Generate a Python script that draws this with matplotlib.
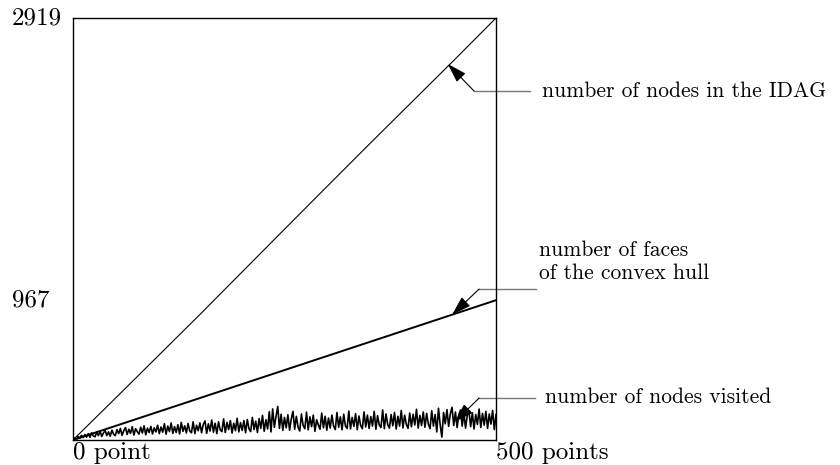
import numpy as np
import matplotlib
matplotlib.use('Agg')
import matplotlib.pyplot as plt

# points inserted so far
pts_idag = [0, 50, 100, 150, 200, 250, 300, 350, 400, 450, 500]
idag = [0, 288, 578, 868, 1163, 1458, 1752, 2045, 2335, 2625, 2919]

pts_hull = [0, 500]
hull = [0, 967]

# nodes visited during location, sampled every 2 points
visited = [
    0, 14, 6, 24, 12, 32, 16, 38, 20, 44, 18, 50, 28, 22, 54, 30, 60, 24, 48, 66, 30, 56, 26, 68, 40,
    30, 72, 44, 80, 32, 64, 86, 38, 74, 46, 92, 34, 78, 58, 40, 88, 48, 98, 36, 82, 52, 94, 42, 84, 56,
    102, 44, 90, 54, 112, 40, 96, 58, 118, 46, 92, 52, 106, 42, 122, 60, 98, 48, 114, 62, 50, 126, 44, 102, 64,
    118, 50, 108, 132, 46, 112, 62, 138, 54, 116, 44, 126, 70, 58, 146, 52, 122, 72, 134, 48, 116, 64, 150, 56, 120,
    66, 134, 50, 142, 78, 58, 156, 72, 130, 52, 148, 80, 170, 60, 140, 76, 196, 56, 215, 88, 164, 232, 80, 178, 66,
    156, 84, 174, 68, 146, 198, 74, 164, 90, 62, 180, 100, 78, 192, 70, 160, 92, 172, 60, 140, 104, 74, 186, 84, 164,
    68, 152, 82, 172, 96, 72, 190, 88, 160, 70, 178, 98, 80, 200, 76, 156, 94, 182, 72, 166, 100, 78, 194, 90, 172,
    80, 162, 96, 198, 74, 168, 104, 86, 208, 78, 180, 106, 82, 176, 98, 190, 76, 164, 96, 204, 84, 172, 108, 80, 186,
    92, 178, 104, 212, 82, 170, 100, 194, 88, 184, 110, 78, 202, 96, 176, 56, 220, 104, 20, 190, 112, 210, 94, 182, 226,
    100, 194, 86, 172, 208, 96, 184, 82, 170, 202, 92, 188, 76, 176, 108, 214, 86, 184, 102, 198, 80, 180, 110, 204, 72, 176,
]
pts_visited = np.linspace(0, 500, len(visited))

font = 'cmr10'

fig = plt.figure(figsize=(8.4, 4.65), dpi=100)
ax = fig.add_axes([0.0869, 0.0538, 0.5036, 0.9075])

ax.plot(pts_idag, idag, color='black', lw=0.8)
ax.plot(pts_hull, hull, color='black', lw=1.4)
ax.plot(pts_visited, visited, color='black', lw=1.2)

ax.set_xlim(0, 500)
ax.set_ylim(0, 2919)
ax.set_xticks([])
ax.set_yticks([])
for s in ax.spines.values():
    s.set_color('black')
    s.set_linewidth(1.0)

# axis labels written by hand
ax.text(-72, 2919, '2919', fontfamily=font, fontsize=18, ha='left', va='center', clip_on=False)
ax.text(-72, 967, '967', fontfamily=font, fontsize=18, ha='left', va='center', clip_on=False)
ax.text(0, -12, '0 point', fontfamily=font, fontsize=18, ha='left', va='top', clip_on=False)
ax.text(500, -12, '500 points', fontfamily=font, fontsize=18, ha='left', va='top', clip_on=False)

# callouts: (arrow tip, knee, end of leader, label position, label)
callouts = [
    ((443, 2601), (474, 2414), 540, (554, 2414), 'number of nodes in the IDAG'),
    ((448, 866), (480, 1044), 547, (551, 1232), 'number of faces\nof the convex hull'),
    ((451, 124), (480, 290), 546, (558, 297), 'number of nodes visited'),
]
for tip, knee, end, pos, label in callouts:
    ax.annotate('', xy=tip, xytext=knee, xycoords='data',
                arrowprops=dict(arrowstyle='-|>,head_length=0.8,head_width=0.25',
                                color='black', lw=0.8, mutation_scale=15,
                                shrinkA=0, shrinkB=0),
                annotation_clip=False)
    ax.plot([knee[0], end], [knee[1], knee[1]], color='#777777', lw=1.0, clip_on=False)
    ax.text(pos[0], pos[1], label, fontfamily=font, fontsize=15.5, ha='left', va='center',
            linespacing=1.2, clip_on=False)

fig.savefig('out.png', dpi=100)
